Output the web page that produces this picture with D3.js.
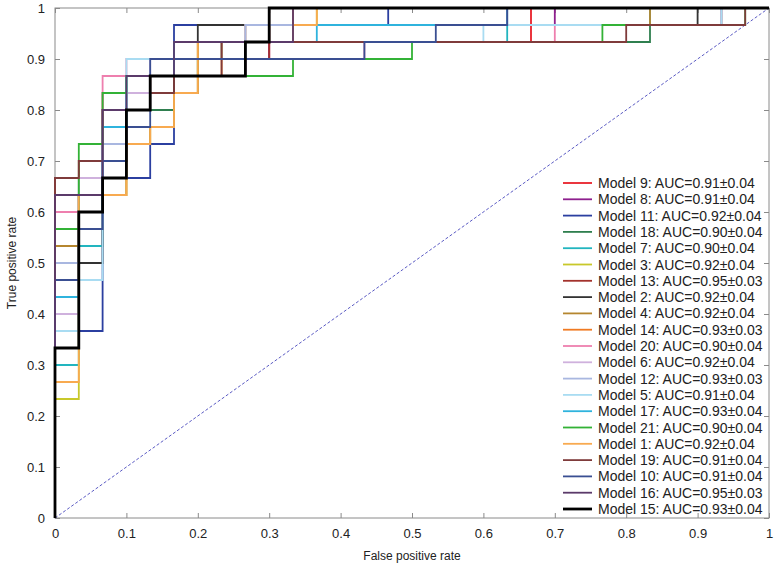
<!DOCTYPE html>
<html>
<head>
<meta charset="utf-8">
<script src="https://cdn.jsdelivr.net/npm/d3@7/dist/d3.min.js"></script>
<style>
  html, body { margin: 0; padding: 0; background: #fff; }
  svg { display: block; }
  text { font-family: "Liberation Sans", Arial, sans-serif; fill: #222; }
</style>
</head>
<body>
<svg id="chart" width="777" height="566"></svg>
<script>
// ---------- data ----------
const modelNames = ["Model 9","Model 8","Model 11","Model 18","Model 7","Model 3","Model 13","Model 2","Model 4","Model 14","Model 20","Model 6","Model 12","Model 5","Model 17","Model 21","Model 1","Model 19","Model 10","Model 16","Model 15"];
const aucLabels = ["0.91±0.04","0.91±0.04","0.92±0.04","0.90±0.04","0.90±0.04","0.92±0.04","0.95±0.03","0.92±0.04","0.92±0.04","0.93±0.03","0.90±0.04","0.92±0.04","0.93±0.03","0.91±0.04","0.93±0.04","0.90±0.04","0.92±0.04","0.91±0.04","0.91±0.04","0.95±0.03","0.93±0.04"];
const lineColors = ["#e8202a","#8e1f8e","#2b3fa0","#2f7f4f","#22b5bf","#c8c82a","#a3322c","#333333","#b5862f","#f07a22","#ee7fae","#cfb1dd","#a9b7e0","#a9dcf2","#2fb3dd","#33b236","#f8aa50","#7f3b3b","#3a4f92","#5b3a6a","#000000"];
const nNegatives = 30, nPositives = 30;
// ROC step vertices as [false positives, true positives] counts
const roc9  = [[0,0],[0,14],[1,14],[1,16],[2,16],[2,22],[3,22],[3,25],[5,25],[5,27],[9,27],[9,28],[20,28],[20,30],[30,30]];
const roc8  = [[0,0],[0,13],[1,13],[1,19],[2,19],[2,24],[3,24],[3,26],[8,26],[8,27],[9,27],[9,29],[21,29],[21,30],[30,30]];
const roc11 = [[0,0],[0,11],[2,11],[2,20],[4,20],[4,22],[5,22],[5,29],[14,29],[14,30],[30,30]];
const roc18 = [[0,0],[0,14],[1,14],[1,20],[2,20],[2,23],[3,23],[3,24],[5,24],[5,27],[8,27],[8,28],[25,28],[25,29],[28,29],[28,30],[30,30]];
const roc7  = [[0,0],[0,9],[1,9],[1,16],[2,16],[2,22],[3,22],[3,26],[6,26],[6,27],[7,27],[7,28],[19,28],[19,29],[25,29],[25,30],[30,30]];
const roc3  = [[0,0],[0,7],[1,7],[1,19],[3,19],[3,22],[4,22],[4,23],[5,23],[5,25],[6,25],[6,28],[10,28],[10,29],[11,29],[11,30],[30,30]];
const roc13 = [[0,0],[0,20],[1,20],[1,21],[2,21],[2,25],[4,25],[4,26],[5,26],[5,27],[9,27],[9,30],[30,30]];
const roc2  = [[0,0],[0,15],[2,15],[2,21],[3,21],[3,25],[5,25],[5,28],[6,28],[6,29],[27,29],[27,30],[30,30]];
const roc4  = [[0,0],[0,16],[1,16],[1,19],[3,19],[3,22],[4,22],[4,23],[5,23],[5,25],[6,25],[6,28],[8,28],[8,29],[25,29],[25,30],[30,30]];
const roc14 = [[0,0],[0,13],[1,13],[1,19],[2,19],[2,21],[3,21],[3,25],[4,25],[4,26],[7,26],[7,28],[9,28],[9,29],[10,29],[10,30],[30,30]];
const roc20 = [[0,0],[0,18],[1,18],[1,19],[2,19],[2,26],[3,26],[3,27],[13,27],[13,28],[21,28],[21,29],[28,29],[28,30],[30,30]];
const roc6  = [[0,0],[0,12],[1,12],[1,20],[2,20],[2,24],[3,24],[3,25],[4,25],[4,27],[8,27],[8,29],[28,29],[28,30],[30,30]];
const roc12 = [[0,0],[0,15],[1,15],[1,18],[2,18],[2,22],[3,22],[3,26],[5,26],[5,27],[8,27],[8,29],[19,29],[19,30],[30,30]];
const roc5  = [[0,0],[0,11],[1,11],[1,14],[2,14],[2,23],[3,23],[3,27],[5,27],[5,28],[18,28],[18,29],[28,29],[28,30],[30,30]];
const roc17 = [[0,0],[0,13],[1,13],[1,18],[2,18],[2,23],[3,23],[3,26],[5,26],[5,28],[11,28],[11,29],[19,29],[19,30],[30,30]];
const roc21 = [[0,0],[0,17],[1,17],[1,22],[2,22],[2,25],[3,25],[3,26],[10,26],[10,27],[15,27],[15,28],[23,28],[23,29],[29,29],[29,30],[30,30]];
const roc1  = [[0,0],[0,8],[1,8],[1,19],[3,19],[3,22],[4,22],[4,23],[5,23],[5,25],[6,25],[6,28],[10,28],[10,29],[11,29],[11,30],[30,30]];
const roc19 = [[0,0],[0,20],[1,20],[1,21],[2,21],[2,24],[4,24],[4,25],[5,25],[5,26],[7,26],[7,28],[24,28],[24,29],[29,29],[29,30],[30,30]];
const roc10 = [[0,0],[0,14],[1,14],[1,17],[2,17],[2,21],[3,21],[3,23],[4,23],[4,27],[13,27],[13,28],[16,28],[16,29],[19,29],[19,30],[30,30]];
const roc16 = [[0,0],[0,19],[2,19],[2,24],[3,24],[3,26],[5,26],[5,28],[10,28],[10,30],[30,30]];
const roc15 = [[0,0],[0,10],[1,10],[1,18],[2,18],[2,20],[3,20],[3,24],[4,24],[4,26],[8,26],[8,28],[9,28],[9,30],[30,30]];
const rocCurves = [roc9,roc8,roc11,roc18,roc7,roc3,roc13,roc2,roc4,roc14,roc20,roc6,roc12,roc5,roc17,roc21,roc1,roc19,roc10,roc16,roc15];
const tickValues = [0,0.1,0.2,0.3,0.4,0.5,0.6,0.7,0.8,0.9,1];
const tickLabels = ["0","0.1","0.2","0.3","0.4","0.5","0.6","0.7","0.8","0.9","1"];
const xTitle = "False positive rate";
const yTitle = "True positive rate";

// ---------- layout ----------
const svg = d3.select("#chart");
const mLeft = 55, mRight = 769, mTop = 8, mBottom = 518;
const x = d3.scaleLinear().domain([0,1]).range([mLeft, mRight]);
const y = d3.scaleLinear().domain([0,1]).range([mBottom, mTop]);
const fmt = d => tickLabels[tickValues.indexOf(d)];

// axes (ticks inside)
const axColor = "#8a8a8a";
function styleAxis(g, showText) {
  g.select(".domain").remove();
  g.selectAll(".tick line").attr("stroke", axColor);
  g.selectAll(".tick text").style("font-size", "13px").attr("fill", "#222");
  if (!showText) g.selectAll(".tick text").remove();
}
svg.append("g").attr("transform", `translate(0,${mBottom})`)
  .call(d3.axisBottom(x).tickValues(tickValues).tickFormat(fmt).tickSize(-5).tickPadding(11))
  .call(g => styleAxis(g, true));
svg.append("g").attr("transform", `translate(0,${mTop})`)
  .call(d3.axisTop(x).tickValues(tickValues).tickSize(-5))
  .call(g => styleAxis(g, false));
svg.append("g").attr("transform", `translate(${mLeft},0)`)
  .call(d3.axisLeft(y).tickValues(tickValues).tickFormat(fmt).tickSize(-5).tickPadding(10))
  .call(g => styleAxis(g, true));
svg.append("g").attr("transform", `translate(${mRight},0)`)
  .call(d3.axisRight(y).tickValues(tickValues).tickSize(-5))
  .call(g => styleAxis(g, false));

svg.append("rect").attr("x", mLeft).attr("y", mTop).attr("width", mRight-mLeft).attr("height", mBottom-mTop)
  .attr("fill", "none").attr("stroke", axColor).attr("stroke-width", 1);

// chance diagonal
svg.append("line").attr("x1", x(0)).attr("y1", y(0)).attr("x2", x(1)).attr("y2", y(1))
  .attr("stroke", "#5b5bc4").attr("stroke-width", 1).attr("stroke-dasharray", "3,2");

// ROC curves
const line = d3.line().x(d => x(d[0]/nNegatives)).y(d => y(d[1]/nPositives));
rocCurves.forEach((c, i) => {
  svg.append("path").datum(c).attr("d", line)
    .attr("fill", "none").attr("stroke", lineColors[i])
    .attr("stroke-width", i === rocCurves.length-1 ? 2.8 : 1.8)
    .attr("stroke-linejoin", "miter");
});

// legend
const lg = svg.append("g");
const lgY0 = 183, lgDy = 16.3;
modelNames.forEach((m, i) => {
  const yy = lgY0 + i*lgDy;
  lg.append("line").attr("x1", 563).attr("x2", 592).attr("y1", yy).attr("y2", yy)
    .attr("stroke", lineColors[i]).attr("stroke-width", i === modelNames.length-1 ? 2.8 : 1.8);
  lg.append("text").attr("x", 598).attr("y", yy).attr("dy", "0.36em")
    .style("font-size", "14px").text(`${m}: AUC=${aucLabels[i]}`);
});

// titles
svg.append("text").attr("x", (mLeft+mRight)/2).attr("y", 556).attr("text-anchor", "middle")
  .attr("dy", "0.35em").style("font-size", "12px").text(xTitle);
svg.append("text").attr("transform", `translate(12,${(mTop+mBottom)/2}) rotate(-90)`)
  .attr("text-anchor", "middle").attr("dy", "0.35em").style("font-size", "12px").text(yTitle);
</script>
</body>
</html>
